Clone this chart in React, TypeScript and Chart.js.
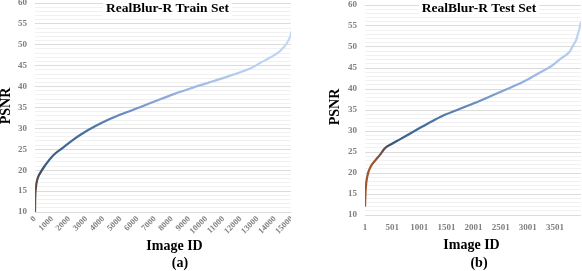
import React, { useEffect, useRef } from 'react';
import { Chart, registerables } from 'chart.js';

Chart.register(...registerables);

// ---- Data ----
const trainIds = [0, 10, 40, 130, 300, 600, 1100, 1600, 2200, 2700, 3500, 4400, 5300, 6200, 7200, 8100, 9100, 10100, 11100, 12100, 12700, 13200, 13700, 14300, 14700, 14900, 15000];
const trainPsnr = [10, 13, 15.3, 17.7, 19.3, 21.2, 23.7, 25.3, 27.2, 28.6, 30.5, 32.3, 33.8, 35.2, 36.8, 38.2, 39.6, 40.9, 42.2, 43.6, 44.6, 45.8, 46.9, 48.5, 50.4, 52.0, 53.5];

const testIds = [1, 13, 42, 105, 184, 276, 367, 490, 643, 753, 1050, 1396, 1700, 2008, 2300, 2621, 2900, 3233, 3450, 3600, 3766, 3845, 3888, 3949, 3980];
const testPsnr = [12, 16, 19.1, 21.5, 22.9, 24.3, 25.9, 26.9, 28.0, 28.8, 31.0, 33.4, 35.0, 36.6, 38.2, 40.0, 41.6, 44.0, 45.6, 47.2, 48.8, 50.6, 51.6, 54.3, 56.0];

const yTickLabels = [10, 15, 20, 25, 30, 35, 40, 45, 50, 55, 60];
const trainXTicks = [0, 1000, 2000, 3000, 4000, 5000, 6000, 7000, 8000, 9000, 10000, 11000, 12000, 13000, 14000, 15000];
const testXTicks = [1, 501, 1001, 1501, 2001, 2501, 3001, 3501];

type Txt = { text: string; x: number; y: number; size: number; rot?: boolean; bg?: boolean };

type Cfg = {
  ids: number[];
  values: number[];
  xTicks: number[];
  xMin: number;
  xMax: number;
  canvasWidth: number;
  yAxisWidth: number;
  xAxisHeight: number;
  padTop: number;
  padRight: number;
  rotate: boolean;
  xTickPad: number;
  xTickSize: number;
  stops: [number, string][];
  texts: Txt[];
};

const FONT = '"Liberation Serif", "Times New Roman", serif';

function textPlugin(texts: Txt[]) {
  return {
    id: 'customTexts',
    afterDraw(chart: any) {
      const c = chart.ctx as CanvasRenderingContext2D;
      c.save();
      c.textAlign = 'center';
      c.textBaseline = 'middle';
      for (const t of texts) {
        c.font = `bold ${t.size}px ${FONT}`;
        if (t.rot) {
          c.save();
          c.translate(t.x, t.y);
          c.rotate(-Math.PI / 2);
          c.fillStyle = '#000';
          c.fillText(t.text, 0, 0);
          c.restore();
        } else {
          if (t.bg) {
            const w = c.measureText(t.text).width;
            c.fillStyle = '#fff';
            c.fillRect(t.x - w / 2 - 3, t.y - t.size / 2 - 1, w + 6, t.size + 2);
          }
          c.fillStyle = '#000';
          c.fillText(t.text, t.x, t.y);
        }
      }
      c.restore();
    },
  };
}

function gradientFor(stops: [number, string][]) {
  return (ctx: any) => {
    const chart = ctx.chart;
    const a = chart.chartArea;
    if (!a) return stops[0][1];
    const g = chart.ctx.createLinearGradient(a.left, 0, a.right, 0);
    stops.forEach(([o, col]) => g.addColorStop(o, col));
    return g;
  };
}

function ChartBox({ cfg, left, width }: { cfg: Cfg; left: number; width: number }) {
  const ref = useRef<HTMLCanvasElement | null>(null);
  useEffect(() => {
    if (!ref.current) return;
    const points = cfg.ids.map((id, i) => ({ x: id, y: cfg.values[i] }));
    const chart = new Chart(ref.current, {
      type: 'line',
      data: {
        datasets: [
          {
            data: points,
            borderColor: gradientFor(cfg.stops) as any,
            borderWidth: 2.2,
            pointRadius: 0,
            cubicInterpolationMode: 'monotone',
            fill: false,
          },
        ],
      },
      options: {
        animation: false,
        responsive: false,
        maintainAspectRatio: false,
        devicePixelRatio: 1,
        layout: { padding: { top: cfg.padTop, right: cfg.padRight, left: 0, bottom: 0 } },
        plugins: { legend: { display: false }, tooltip: { enabled: false }, title: { display: false } },
        scales: {
          x: {
            type: 'linear',
            min: cfg.xMin,
            max: cfg.xMax,
            grid: { display: false, drawTicks: false },
            border: { display: false },
            afterBuildTicks: (scale: any) => {
              scale.ticks = cfg.xTicks.map((v) => ({ value: v }));
            },
            afterFit: (scale: any) => {
              scale.height = cfg.xAxisHeight;
              scale.paddingLeft = 0;
              scale.paddingRight = 0;
            },
            ticks: {
              autoSkip: false,
              minRotation: cfg.rotate ? 45 : 0,
              maxRotation: cfg.rotate ? 45 : 0,
              padding: cfg.xTickPad,
              color: '#7f7f7f',
              font: { family: FONT, size: cfg.xTickSize, weight: 'bold' },
              callback: (v: any) => String(v),
            },
          },
          y: {
            type: 'linear',
            min: 10,
            max: 60,
            grid: {
              drawTicks: false,
              color: (ctx: any) => (ctx.tick && yTickLabels.includes(ctx.tick.value) ? '#dcdcdc' : '#f1f1f1'),
              lineWidth: 1,
            },
            border: { display: false },
            afterBuildTicks: (scale: any) => {
              const t = [];
              for (let v = 10; v <= 60; v++) t.push({ value: v });
              scale.ticks = t;
            },
            afterFit: (scale: any) => {
              scale.width = cfg.yAxisWidth;
              scale.paddingTop = 0;
              scale.paddingBottom = 0;
            },
            ticks: {
              autoSkip: false,
              padding: 8,
              color: '#7f7f7f',
              font: { family: FONT, size: 9, weight: 'bold' },
              callback: (v: any) => (yTickLabels.includes(v) ? String(v) : ''),
            },
          },
        },
      },
      plugins: [textPlugin(cfg.texts)],
    });
    return () => chart.destroy();
  }, []);
  return (
    <div style={{ position: 'absolute', left, top: 0, width, height: 271, overflow: 'hidden' }}>
      <canvas ref={ref} width={cfg.canvasWidth} height={271} style={{ display: 'block' }} />
    </div>
  );
}

const trainCfg: Cfg = {
  ids: trainIds,
  values: trainPsnr,
  xTicks: trainXTicks,
  xMin: 0,
  xMax: 15000,
  canvasWidth: 294,
  yAxisWidth: 35,
  xAxisHeight: 59,
  padTop: 3,
  padRight: 2,
  rotate: true,
  xTickPad: 2,
  xTickSize: 8.5,
  stops: [
    [0, '#83502f'],
    [0.004, '#6e4c3a'],
    [0.015, '#3e4c5e'],
    [0.05, '#3a5f88'],
    [0.1, '#3d6590'],
    [0.22, '#4c75a4'],
    [0.35, '#6a8cbf'],
    [0.48, '#87a6d6'],
    [0.63, '#a0bce6'],
    [0.8, '#b3ccf0'],
    [1, '#c5d8f4'],
  ],
  texts: [
    { text: 'RealBlur-R Train Set', x: 167.5, y: 8.5, size: 13.5, bg: true },
    { text: 'PSNR', x: 6, y: 106, size: 14, rot: true },
    { text: 'Image ID', x: 174.5, y: 246, size: 14 },
    { text: '(a)', x: 180, y: 263, size: 14 },
  ],
};

const testCfg: Cfg = {
  ids: testIds,
  values: testPsnr,
  xTicks: testXTicks,
  xMin: 1,
  xMax: 3980,
  canvasWidth: 291,
  yAxisWidth: 74,
  xAxisHeight: 56,
  padTop: 5,
  padRight: 1,
  rotate: false,
  xTickPad: 7,
  xTickSize: 9,
  stops: [
    [0, '#a4552a'],
    [0.04, '#9a5530'],
    [0.1, '#4a4b5c'],
    [0.14, '#365a84'],
    [0.19, '#3b6590'],
    [0.35, '#4f77a8'],
    [0.5, '#6a8cbf'],
    [0.66, '#87a6d6'],
    [0.81, '#a0bce6'],
    [0.97, '#b8cff0'],
    [1, '#c3d6f3'],
  ],
  texts: [
    { text: 'RealBlur-R Test Set', x: 188, y: 8.5, size: 13.5, bg: true },
    { text: 'PSNR', x: 44, y: 107, size: 14, rot: true },
    { text: 'Image ID', x: 180.5, y: 245, size: 14 },
    { text: '(b)', x: 188, y: 263, size: 14 },
  ],
};

export default function App() {
  return (
    <div style={{ position: 'absolute', left: 0, top: 0, width: 582, height: 271, background: '#fff', overflow: 'hidden' }}>
      <ChartBox cfg={trainCfg} left={0} width={291} />
      <ChartBox cfg={testCfg} left={291} width={291} />
    </div>
  );
}
